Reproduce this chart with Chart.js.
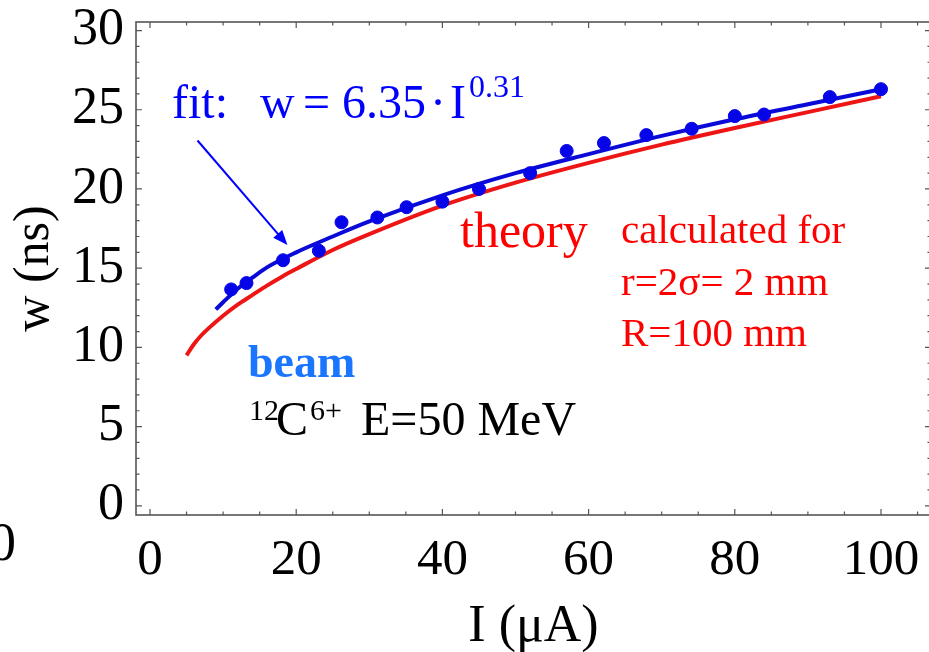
<!DOCTYPE html>
<html>
<head>
<meta charset="utf-8">
<script src="https://cdn.jsdelivr.net/npm/chart.js@4/dist/chart.umd.min.js"></script>
<style>
  html, body { margin: 0; padding: 0; background: #fff; overflow: hidden; }
  #wrap { width: 940px; height: 652px; }
</style>
</head>
<body>
<div id="wrap"><canvas id="chart" width="940" height="652"></canvas></div>
<script>
// measured bunch width vs beam current
const measCurrent = [11.1, 13.2, 18.2, 23.1, 26.2, 31.1, 35.1, 40.0, 45.0, 52.0, 57.0, 62.1, 67.9, 74.1, 80.0, 84.0, 93.0, 100.0];
const measWidth = [13.66, 14.06, 15.5, 16.1, 17.9, 18.2, 18.85, 19.2, 20.0, 21.0, 22.4, 22.9, 23.4, 23.8, 24.6, 24.7, 25.8, 26.3];

// fit curve
const fitCurrent = [9, 10, 12, 14, 16, 20, 25, 30, 40, 50, 60, 70, 80, 90, 100];
const fitWidth = [12.4, 12.85, 13.7, 14.4, 15.05, 16.0, 17.0, 17.95, 19.6, 21.0, 22.2, 23.35, 24.4, 25.35, 26.3];

// theory curve
const theoryCurrent = [5, 6, 7, 8, 10, 12, 14, 16, 18, 20, 25, 30, 40, 50, 60, 70, 80, 90, 100];
const theoryWidth = [9.5, 10.2, 10.75, 11.2, 12.0, 12.7, 13.3, 13.9, 14.45, 14.95, 16.15, 17.15, 18.95, 20.4, 21.65, 22.8, 23.85, 24.85, 25.85];

const xMajor = [0, 20, 40, 60, 80, 100];
const yMajor = [0, 5, 10, 15, 20, 25, 30];

const toPoints = (xs, ys) => xs.map((x, i) => ({x: x, y: ys[i]}));
const serif = '"Liberation Serif", "Times New Roman", serif';

const isMult = (v, s) => Math.abs(v / s - Math.round(v / s)) < 1e-6;

// frame with inward ticks + text annotations
const decorPlugin = {
    id: 'decor',
    afterDraw(chart) {
        const ctx = chart.ctx;
        const a = chart.chartArea;
        const xs = chart.scales.x, ys = chart.scales.y;
        ctx.save();
        ctx.strokeStyle = '#555';
        ctx.lineWidth = 1.6;
        ctx.strokeRect(a.left, a.top, a.right - a.left, a.bottom - a.top);

        ctx.lineWidth = 1.2;
        ctx.beginPath();
        xs.ticks.forEach(t => {
            if (!isMult(t.value, 5)) return;
            const px = xs.getPixelForValue(t.value);
            const len = isMult(t.value, 20) ? 6 : 3.5;
            ctx.moveTo(px, a.bottom); ctx.lineTo(px, a.bottom - len);
            ctx.moveTo(px, a.top); ctx.lineTo(px, a.top + len);
        });
        ys.ticks.forEach(t => {
            if (!isMult(t.value, 1)) return;
            const py = ys.getPixelForValue(t.value);
            const len = isMult(t.value, 5) ? 6 : 3.5;
            ctx.moveTo(a.left, py); ctx.lineTo(a.left + len, py);
            ctx.moveTo(a.right, py); ctx.lineTo(a.right - len, py);
        });
        ctx.stroke();

        // arrow pointing at the fit curve
        const x0 = xs.getPixelForValue(6.5), y0 = ys.getPixelForValue(23.06);
        const x1 = xs.getPixelForValue(18.8), y1 = ys.getPixelForValue(16.46);
        const ang = Math.atan2(y1 - y0, x1 - x0);
        ctx.strokeStyle = '#0000ff';
        ctx.fillStyle = '#0000ff';
        ctx.lineWidth = 2;
        ctx.beginPath();
        ctx.moveTo(x0, y0);
        ctx.lineTo(x1 - 10 * Math.cos(ang), y1 - 10 * Math.sin(ang));
        ctx.stroke();
        ctx.beginPath();
        ctx.moveTo(x1, y1);
        ctx.lineTo(x1 - 16 * Math.cos(ang - 0.38), y1 - 16 * Math.sin(ang - 0.38));
        ctx.lineTo(x1 - 16 * Math.cos(ang + 0.38), y1 - 16 * Math.sin(ang + 0.38));
        ctx.closePath();
        ctx.fill();

        ctx.textBaseline = 'alphabetic';
        ctx.textAlign = 'left';

        // fit formula
        ctx.fillStyle = '#0000ff';
        ctx.font = '48px ' + serif;
        ctx.fillText('fit:', 172, 118);
        ctx.fillText('w', 260, 118);
        ctx.fillText('=', 303, 118);
        ctx.fillText('6.35', 342, 118);
        ctx.fillText('\u00b7', 430, 118);
        ctx.fillText('I', 450, 118);
        ctx.font = '32px ' + serif;
        ctx.fillText('0.31', 469, 97);

        // theory labels
        ctx.fillStyle = '#ff0000';
        ctx.font = '50px ' + serif;
        ctx.fillText('theory', 460, 247);
        ctx.font = '41px ' + serif;
        ctx.fillText('calculated for', 621, 243);
        ctx.fillText('r=2\u03c3= 2 mm', 621, 295);
        ctx.fillText('R=100 mm', 621, 346);

        // beam
        ctx.fillStyle = '#1a75ff';
        ctx.font = 'bold 46px ' + serif;
        ctx.fillText('beam', 248, 377);
        ctx.fillStyle = '#000';
        ctx.font = '30px ' + serif;
        ctx.fillText('12', 249, 420);
        ctx.font = '48px ' + serif;
        ctx.fillText('C', 276, 435);
        ctx.font = '30px ' + serif;
        ctx.fillText('6+', 310, 420);
        ctx.font = '48px ' + serif;
        ctx.fillText('E=50 MeV', 361, 435);

        // stray label at the left edge
        ctx.font = '54px ' + serif;
        ctx.fillText('0', -11, 560);
        ctx.restore();
    }
};

new Chart(document.getElementById('chart'), {
    type: 'scatter',
    data: {
        datasets: [{
            label: 'measured',
            data: toPoints(measCurrent, measWidth),
            backgroundColor: '#0505e8',
            borderColor: '#0505e8',
            pointRadius: 6.5,
            showLine: false
        }, {
            label: 'fit',
            data: toPoints(fitCurrent, fitWidth),
            borderColor: '#0a0ad8',
            borderWidth: 4,
            pointRadius: 0,
            showLine: true,
            cubicInterpolationMode: 'monotone'
        }, {
            label: 'theory',
            data: toPoints(theoryCurrent, theoryWidth),
            borderColor: '#ee1515',
            borderWidth: 4,
            pointRadius: 0,
            showLine: true,
            cubicInterpolationMode: 'monotone'
        }]
    },
    options: {
        responsive: false,
        animation: false,
        layout: { padding: { top: 22, right: 9, left: 0, bottom: 0 } },
        plugins: {
            legend: { display: false },
            tooltip: { enabled: false }
        },
        scales: {
            x: {
                type: 'linear',
                min: -1.915,
                max: 106.84,
                afterFit: (s) => {
                    s.height = 137;
                    s.paddingLeft = 0;
                    s.paddingRight = 0;
                },
                grid: { display: false, drawTicks: false },
                border: { display: false },
                ticks: {
                    stepSize: 5,
                    includeBounds: false,
                    autoSkip: false,
                    maxRotation: 0,
                    minRotation: 0,
                    padding: 15,
                    color: '#000',
                    font: { family: serif, size: 51 },
                    callback: (v) => xMajor.some(m => Math.abs(m - v) < 1e-6) ? String(Math.round(v)) : ''
                },
                title: {
                    display: true,
                    text: 'I (\u03bcA)',
                    color: '#000',
                    font: { family: serif, size: 52, lineHeight: 0.9 },
                    padding: { top: 0, bottom: 1 }
                }
            },
            y: {
                min: -0.58,
                max: 30.54,
                afterFit: (s) => {
                    s.width = 136;
                    s.paddingTop = 0;
                    s.paddingBottom = 0;
                },
                grid: { display: false, drawTicks: false },
                border: { display: false },
                ticks: {
                    stepSize: 1,
                    includeBounds: false,
                    autoSkip: false,
                    padding: 12,
                    color: '#000',
                    font: { family: serif, size: 52 },
                    callback: (v) => yMajor.some(m => Math.abs(m - v) < 1e-6) ? String(Math.round(v)) : ''
                },
                title: {
                    display: true,
                    text: 'w (ns)',
                    color: '#000',
                    font: { family: serif, size: 50 },
                    padding: { top: 5, bottom: 0 }
                }
            }
        }
    },
    plugins: [decorPlugin]
});
</script>
</body>
</html>
